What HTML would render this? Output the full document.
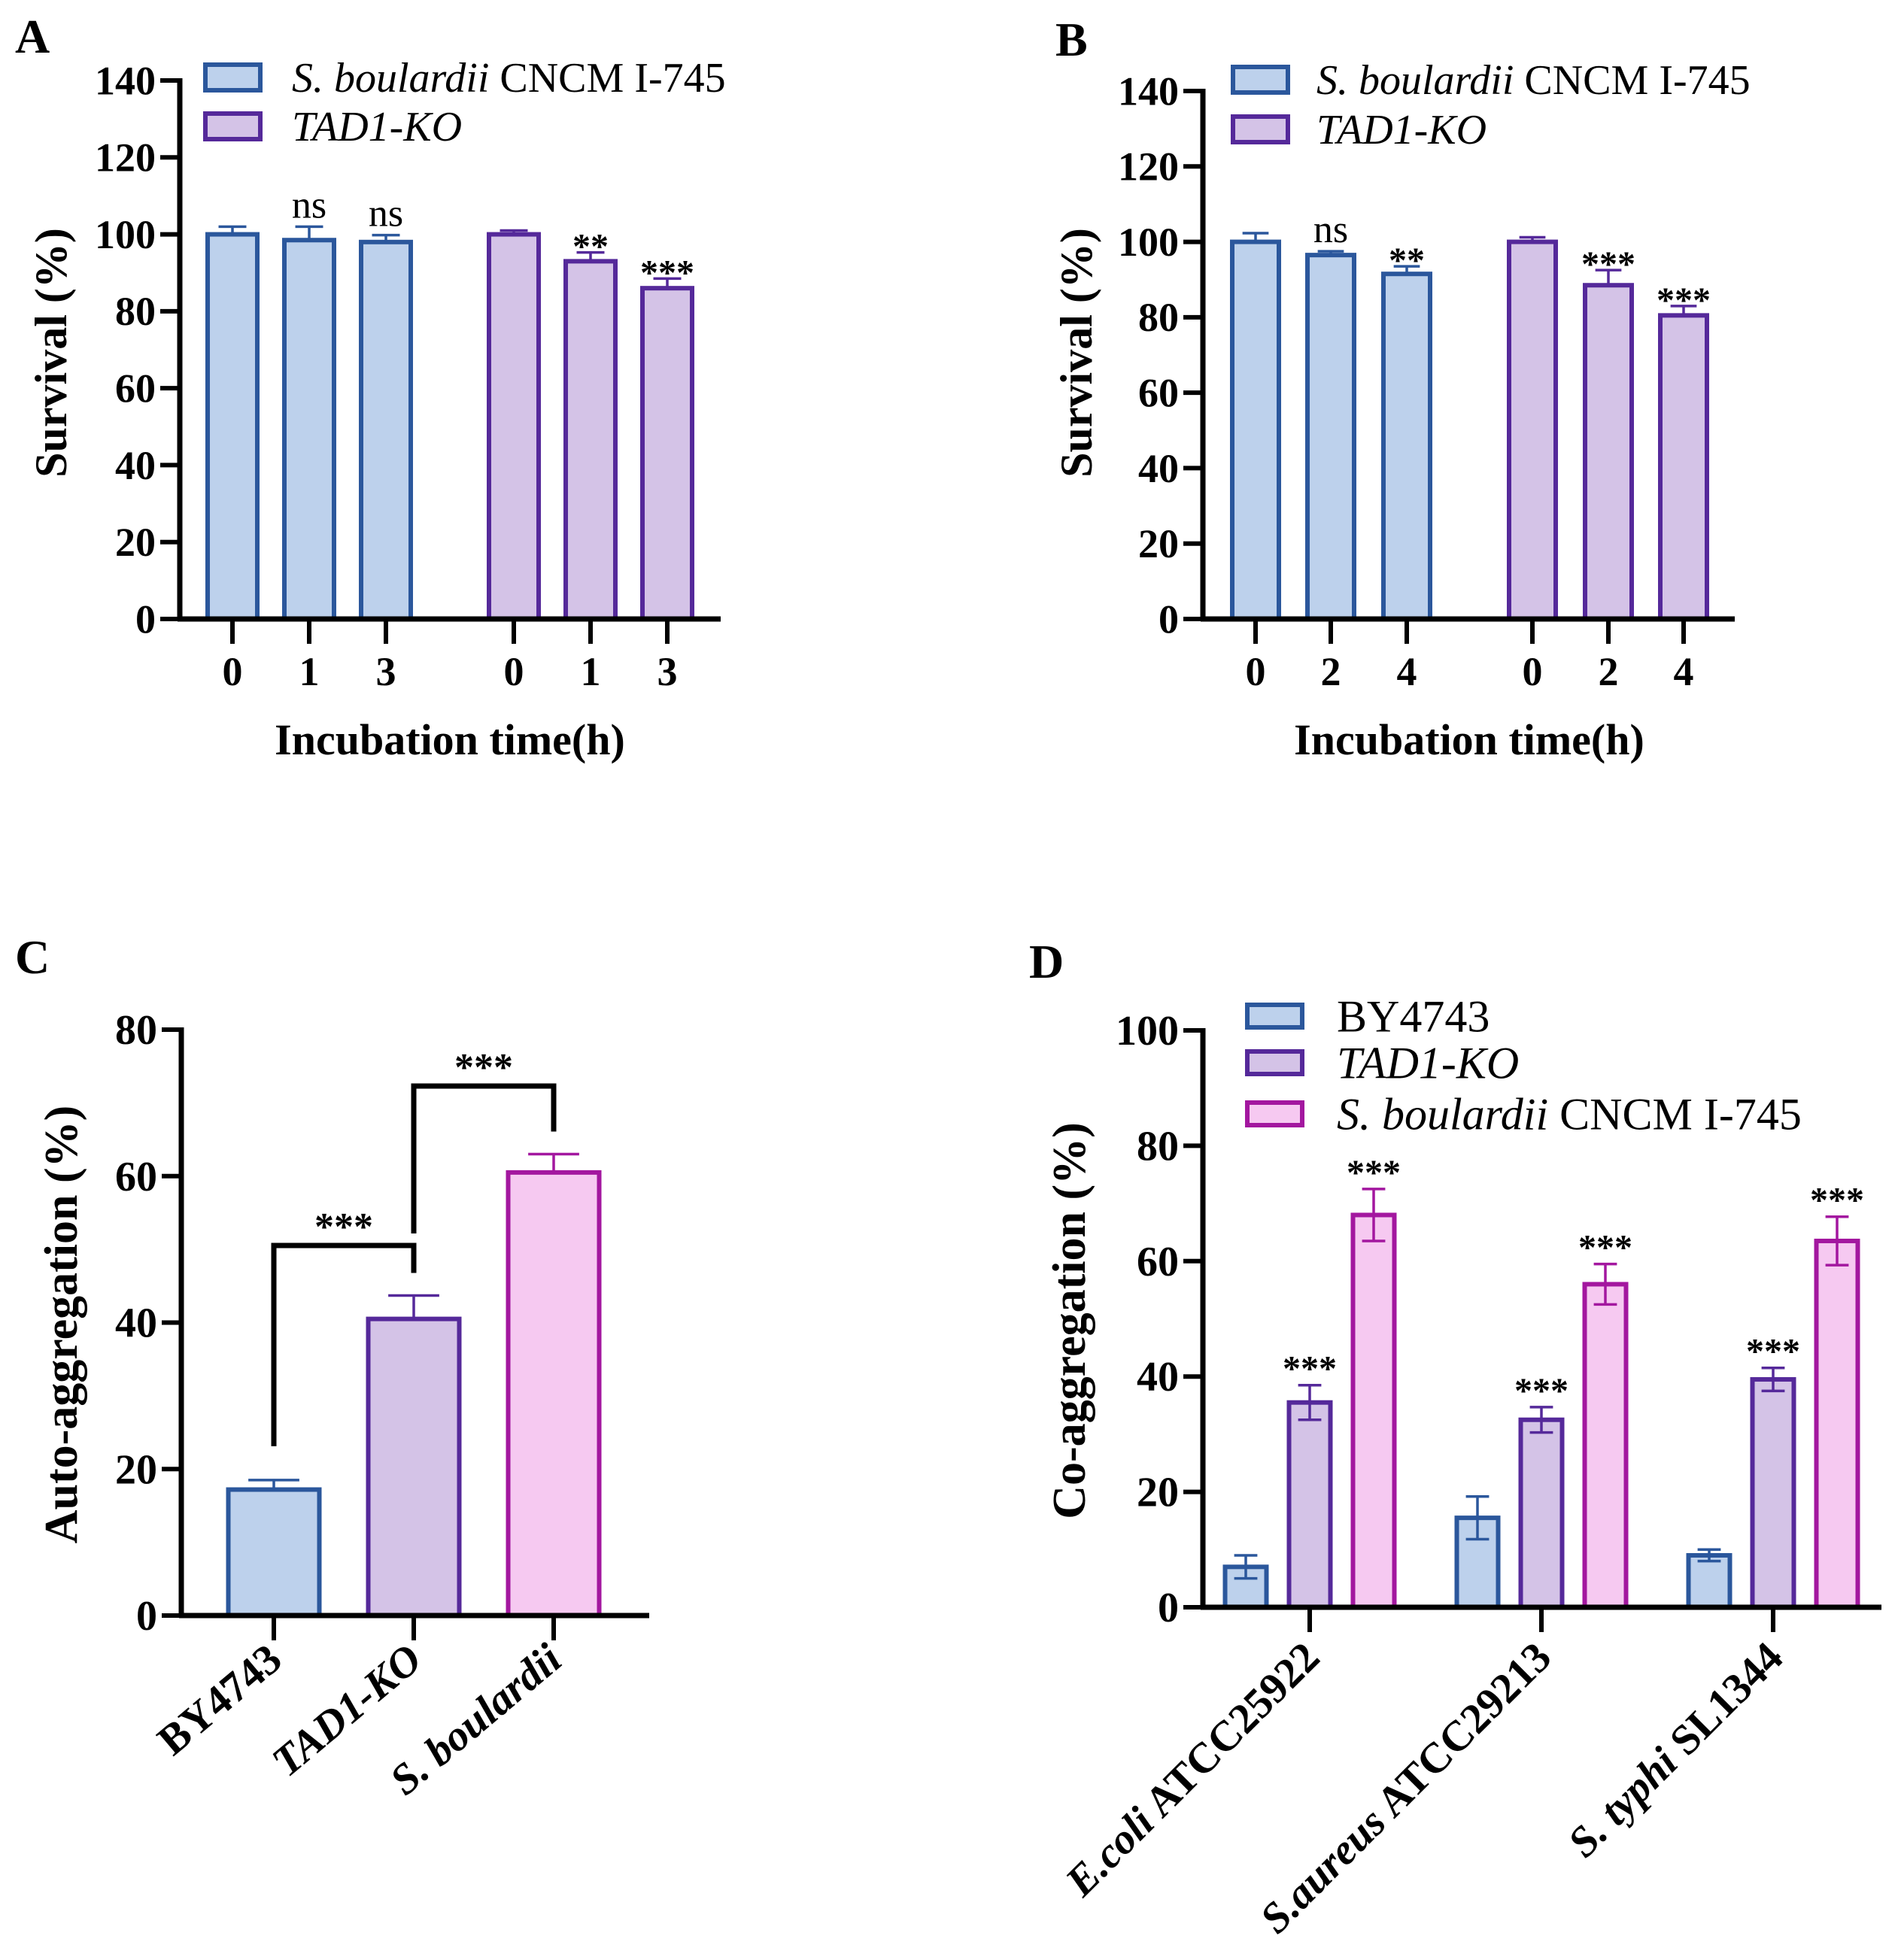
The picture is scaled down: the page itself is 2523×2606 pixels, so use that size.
<!DOCTYPE html>
<html><head><meta charset="utf-8"><style>
html,body{margin:0;padding:0;background:#fff}
svg{display:block}
text{font-family:"Liberation Serif",serif;fill:#000}
.b{font-weight:bold}
</style></head><body>
<svg id="fig" width="2523" height="2606" viewBox="0 0 2523 2606" xmlns="http://www.w3.org/2000/svg"></svg>
<script>
// ---- data ----
const aLabels = ["0","1","3","0","1","3"];
const aValues = [100, 98.5, 98, 100, 93, 86];
const aErrors = [2, 3.5, 1.8, 1, 2.3, 2.5];
const aSig = ["", "ns", "ns", "", "**", "***"];
const bLabels = ["0","2","4","0","2","4"];
const bValues = [100, 96.5, 91.5, 100, 88.5, 80.5];
const bErrors = [2.3, 1, 2, 1.2, 4, 2.5];
const bSig = ["", "ns", "**", "", "***", "***"];
const survTicks = [0,20,40,60,80,100,120,140];
const cCategories = ["BY4743","TAD1-KO","S. boulardii"];
const cValues = [17.2, 40.5, 60.5];
const cErrors = [1.3, 3.2, 2.5];
const cTicks = [0,20,40,60,80];
const dCategories = ["E.coli ATCC25922","S.aureus ATCC29213","S. typhi SL1344"];
const dBY = [7, 15.5, 9];
const dBYerr = [2, 3.7, 1];
const dTAD = [35.5, 32.5, 39.5];
const dTADerr = [3, 2.2, 2];
const dSB = [68, 56, 63.5];
const dSBerr = [4.5, 3.5, 4.2];
const dTicks = [0,20,40,60,80,100];

const NS="http://www.w3.org/2000/svg";
const svg=document.getElementById('fig');
const COL={blue:["#bdd1ec","#2b579c"],purple:["#d4c3e7","#55299a"],pink:["#f6c9f1","#a3179f"]};
function mk(tag,attrs,parent){const e=document.createElementNS(NS,tag);for(const k in attrs)e.setAttribute(k,attrs[k]);(parent||svg).appendChild(e);return e;}
function txt(str,attrs,parent){const e=mk('text',attrs,parent);e.textContent=str;return e;}
function axisY(x,y0,y1,max){return v=>y0-(v/max)*(y0-y1);}

function bar(g,cx,w,yv,y0,col,err,errFn,bothCaps){
  const r=mk('rect',{x:cx-w/2,y:yv,width:w,height:y0-yv,fill:col[0],stroke:col[1],'stroke-width':6},g);
  
  
  const yt=errFn(err[0]), yb=errFn(err[1]);
  const l=mk('line',{x1:cx,x2:cx,y1:yt,y2:bothCaps?yb:yv,stroke:col[1],'stroke-width':3.5},g);
  
  
  mk('line',{x1:cx-w*0.28,x2:cx+w*0.28,y1:yt,y2:yt,stroke:col[1],'stroke-width':3.5},g);
  if(bothCaps) mk('line',{x1:cx-w*0.28,x2:cx+w*0.28,y1:yb,y2:yb,stroke:col[1],'stroke-width':3.5},g);
}

function yAxis(g,ax,y0,y1,ticks,max,fs){
  const Y=axisY(ax,y0,y1,max);
  const a=mk('line',{x1:ax,x2:ax,y1:Y(max)-3,y2:y0+3,stroke:'#000','stroke-width':7},g);
  
  
  ticks.forEach(t=>{
    mk('line',{x1:ax-26,x2:ax,y1:Y(t),y2:Y(t),stroke:'#000','stroke-width':6},g);
    const tl=txt(String(t),{x:ax-32,y:Y(t)+fs*0.34,'text-anchor':'end','font-size':fs,class:'b'},g);
    
    
  });
  return Y;
}

function legend(g,items,x,ys,bw,bh,fs,tx){
  items.forEach((it,i)=>{
    const r=mk('rect',{x:x,y:ys[i]-bh/2,width:bw,height:bh,fill:it.col[0],stroke:it.col[1],'stroke-width':6},g);
    
    
    const t=mk('text',{x:tx,y:ys[i]+fs*0.34,'font-size':fs},g);
    
    
    it.parts.forEach(p=>{const s=mk('tspan',p[1]?{'font-style':'italic'}:{},t);s.textContent=p[0];});
  });
}

// ---- survival panels A & B ----
function survival(name,letter,lx,ly,ax,xEnd,centers,w,labels,values,errors,sig,legX,legTx,legYs,ytx,ytitleX,titleX){
  const g=mk('g',{});  
  const y0=823,y1=name==='panel-a'?107:121;
  const pl=txt(letter,{x:lx,y:ly,'font-size':64,class:'b'},g);
   
  const Y=yAxis(g,ax,y0,y1,survTicks,140,54);
  values.forEach((v,i)=>{
    const col=i<3?COL.blue:COL.purple;
    bar(g,centers[i],w,Y(v),y0,col,[v+errors[i],v-errors[i]],Y,false);
    mk('line',{x1:centers[i],x2:centers[i],y1:y0,y2:y0+33,stroke:'#000','stroke-width':6},g);
    const tl=txt(labels[i],{x:centers[i],y:y0+88,'text-anchor':'middle','font-size':54,class:'b'},g);
     
    if(sig[i]){
      const isStar=sig[i][0]==='*';
      const s=txt(sig[i],{x:centers[i],y:Y(v+errors[i])-(isStar?-8:12),'text-anchor':'middle','font-size':isStar?48:52,class:isStar?'b':''},g);
       
    }
  });
  const xa=mk('line',{x1:ax-3,x2:xEnd,y1:y0,y2:y0,stroke:'#000','stroke-width':7},g);
   
  const xt=txt('Incubation time(h)',{x:titleX,y:y0+180,'text-anchor':'middle','font-size':58,class:'b'},g);
   
  const yt=txt('Survival (%)',{x:0,y:0,'text-anchor':'middle','font-size':60,class:'b',transform:`translate(${ytitleX},469) rotate(-90)`},g);
   
  legend(g,[{col:COL.blue,parts:[["S. boulardii",1],[" CNCM I-745",0]]},{col:COL.purple,parts:[["TAD1-KO",1]]}],legX,legYs,73,34,56,legTx);
}
survival('panel-a','A',20,70,239,958,[309,411,513,683,785,887],66,aLabels,aValues,aErrors,aSig,273,388,[103,168],0,88,598);
survival('panel-b','B',1403,74,1599,2306,[1669,1769,1870,2037,2138,2238],62,bLabels,bValues,bErrors,bSig,1639,1750,[106,172],0,1451,1953);

// ---- panel C ----
(function(){
  const g=mk('g',{});  
  const y0=2148,y1=1369,ax=241,xEnd=863,w=121;
  const centers=[364,550,736]; const cols=[COL.blue,COL.purple,COL.pink];
  const pl=txt('C',{x:20,y:1294,'font-size':64,class:'b'},g);
   
  const Y=yAxis(g,ax,y0,y1,cTicks,80,56);
  cValues.forEach((v,i)=>{
    bar(g,centers[i],w,Y(v),y0,cols[i],[v+cErrors[i],v-cErrors[i]],Y,false);
    mk('line',{x1:centers[i],x2:centers[i],y1:y0,y2:y0+33,stroke:'#000','stroke-width':6},g);
    const lx=centers[i]+14,ly=y0+64;
    const t=txt(cCategories[i],{x:lx,y:ly,'text-anchor':'end','font-size':57,class:'b','font-style':i>0?'italic':'normal',transform:`rotate(-40 ${lx} ${ly})`},g);
     
  });
  const xa=mk('line',{x1:ax-3,x2:xEnd,y1:y0,y2:y0,stroke:'#000','stroke-width':7},g);
   
  const br1=mk('polyline',{points:`${centers[0]},${Y(cValues[0]+cErrors[0])-45} ${centers[0]},1656 ${centers[1]},1656 ${centers[1]},${Y(cValues[1]+cErrors[1])-30}`,fill:'none',stroke:'#000','stroke-width':7},g);
   
  const br2=mk('polyline',{points:`${centers[1]},1640 ${centers[1]},1444 ${centers[2]},1444 ${centers[2]},${Y(cValues[2]+cErrors[2])-30}`,fill:'none',stroke:'#000','stroke-width':7},g);
   
  const s1=txt('***',{x:(centers[0]+centers[1])/2,y:1648,'text-anchor':'middle','font-size':52,class:'b'},g);
   
  const s2=txt('***',{x:(centers[1]+centers[2])/2,y:1436,'text-anchor':'middle','font-size':52,class:'b'},g);
   
  const yt=txt('Auto-aggregation (%)',{x:0,y:0,'text-anchor':'middle','font-size':62,class:'b',transform:'translate(102,1761) rotate(-90)'},g);
   
})();

// ---- panel D ----
(function(){
  const g=mk('g',{});  
  const y0=2137,y1=1370,ax=1599,xEnd=2501,w=55,gap=85;
  const groups=[1741,2049,2357];
  const pl=txt('D',{x:1368,y:1300,'font-size':64,class:'b'},g);
   
  const Y=yAxis(g,ax,y0,y1,dTicks,100,56);
  const series=[[dBY,dBYerr,COL.blue,false],[dTAD,dTADerr,COL.purple,true],[dSB,dSBerr,COL.pink,true]];
  groups.forEach((gx,i)=>{
    series.forEach((s,j)=>{
      const cx=gx+(j-1)*gap,v=s[0][i],e=s[1][i];
      bar(g,cx,w,Y(v),y0,s[2],[v+e,v-e],Y,true);
      if(s[3]){
        const st=txt('***',{x:cx,y:Y(v+e)-6,'text-anchor':'middle','font-size':48,class:'b'},g);
         
      }
    });
    mk('line',{x1:gx,x2:gx,y1:y0,y2:y0+33,stroke:'#000','stroke-width':6},g);
    const lx=gx+16,ly=y0+70;
    const parts=dCategories[i].split(' ');
    const t=mk('text',{x:lx,y:ly,'text-anchor':'end','font-size':57,class:'b',transform:`rotate(-45 ${lx} ${ly})`},g);
     
    const a=mk('tspan',{'font-style':'italic'},t); a.textContent=parts.slice(0,-1).join(' ');
    const b=mk('tspan',{},t); b.textContent=' '+parts[parts.length-1];
  });
  const xa=mk('line',{x1:ax-3,x2:xEnd,y1:y0,y2:y0,stroke:'#000','stroke-width':7},g);
   
  const yt=txt('Co-aggregation (%)',{x:0,y:0,'text-anchor':'middle','font-size':62,class:'b',transform:'translate(1442,1756) rotate(-90)'},g);
   
  legend(g,[{col:COL.blue,parts:[["BY4743",0]]},{col:COL.purple,parts:[["TAD1-KO",1]]},{col:COL.pink,parts:[["S. boulardii",1],[" CNCM I-745",0]]}],1658,[1351,1413,1481],73,30,60,1777);
})();
</script>
</body></html>
